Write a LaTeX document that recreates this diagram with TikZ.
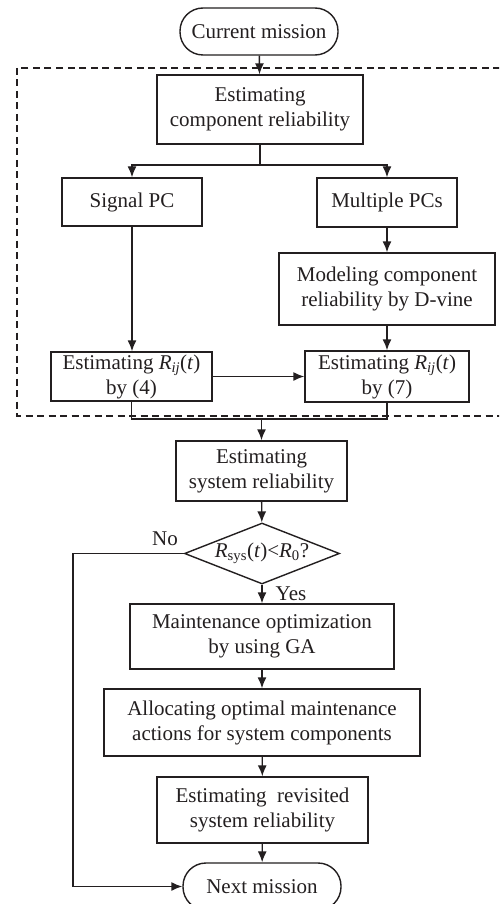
\documentclass[tikz,border=0pt]{standalone}
\usepackage{fontspec}
\setmainfont{Liberation Serif}
\usetikzlibrary{arrows.meta,shapes.geometric}
\definecolor{ink}{HTML}{231F20}
\tikzset{
  box/.style={draw=ink, line width=1.4pt, rectangle, inner sep=0pt, align=center, text=ink,
    font=\fontsize{21pt}{25pt}\selectfont},
  pill/.style={box, rounded corners=23pt},
  link/.style={draw=ink, line width=1.4pt},
  arr/.style={link, -{Latex[length=11pt,width=9pt]}},
  lab/.style={text=ink, font=\fontsize{21pt}{25pt}\selectfont, inner sep=0pt}
}
\begin{document}
\begin{tikzpicture}[x=1pt,y=-1pt]
\path[use as bounding box, clip] (0,0) rectangle (499,904);
\fill[white] (0,0) rectangle (499,904);
% dashed frame
\draw[ink, line width=1.3pt, dash pattern=on 7pt off 4.5pt] (17,68) rectangle (520,416);
% nodes
\node[pill, minimum width=158pt, minimum height=47pt] (cm) at (259,31.5) {Current mission};
\node[box, minimum width=206pt, minimum height=69pt] (ecr) at (260,109.5) {Estimating\\component reliability};
\node[box, minimum width=140pt, minimum height=48pt] (spc) at (132,202) {Signal PC};
\node[box, minimum width=140pt, minimum height=49pt] (mpc) at (387,202.5) {Multiple PCs};
\node[box, minimum width=216pt, minimum height=72pt] (mod) at (387,289) {Modeling component\\reliability by D-vine};
\node[box, minimum width=161pt, minimum height=49pt] (e4) at (131.5,376.5) {Estimating \textit{R}\textsubscript{\textit{ij}}(\textit{t})\\by (4)};
\node[box, minimum width=164pt, minimum height=51pt] (e7) at (387,376.5) {Estimating \textit{R}\textsubscript{\textit{ij}}(\textit{t})\\by (7)};
\node[box, minimum width=171pt, minimum height=60pt] (esr) at (261.5,471) {Estimating\\system reliability};
\node[box, shape=diamond, minimum width=155pt, minimum height=61pt, aspect=2.5] (dia) at (262,553.5) {\textit{R}\textsubscript{sys}(\textit{t})<\textit{R}\textsubscript{0}?};
\node[box, minimum width=264pt, minimum height=65pt] (mo) at (262,636.5) {Maintenance optimization\\by using GA};
\node[box, minimum width=316pt, minimum height=67pt] (al) at (262,722.5) {Allocating optimal maintenance\\actions for system components};
\node[box, minimum width=211pt, minimum height=66pt] (er) at (262.5,810) {Estimating~ revisited\\system reliability};
\node[pill, minimum width=158pt, minimum height=47pt] (nm) at (262,886.5) {Next mission};
% labels
\node[lab] (no) at (165,539) {No};
\node[lab] (yes) at (291,594) {Yes};
% coordinates
\coordinate (split) at (260,165);
\coordinate (sl) at (132,165);
\coordinate (sr) at (387,165);
\coordinate (ml) at (131.5,419);
\coordinate (mr) at (387,419);
\coordinate (mm) at (261.5,419);
\coordinate (nl) at (73,553.5);
\coordinate (nb) at (73,886.5);
% connectors
\draw[arr] (cm) -- (ecr);
\draw[link] (ecr.south) -- (split);
\draw[arr] (split) -- (sl) -- (spc.north);
\draw[arr] (split) -- (sr) -- (mpc.north);
\draw[arr] (spc.south) -- (spc.south |- e4.north);
\draw[arr] (mpc) -- (mod);
\draw[arr] (mod) -- (e7);
\draw[arr] (e4.east) -- (e4.east -| e7.west);
\draw[link] (e4.south -| ml) -- (ml) -- (mr) -- (e7.south);
\draw[arr] (mm) -- (esr.north);
\draw[arr] (esr) -- (dia);
\draw[arr] (dia) -- (mo);
\draw[arr] (mo) -- (al);
\draw[arr] (al) -- (er);
\draw[arr] (er) -- (nm);
\draw[arr] (dia.west) -- (nl) -- (nb) -- (nm.west);
\end{tikzpicture}
\end{document}
